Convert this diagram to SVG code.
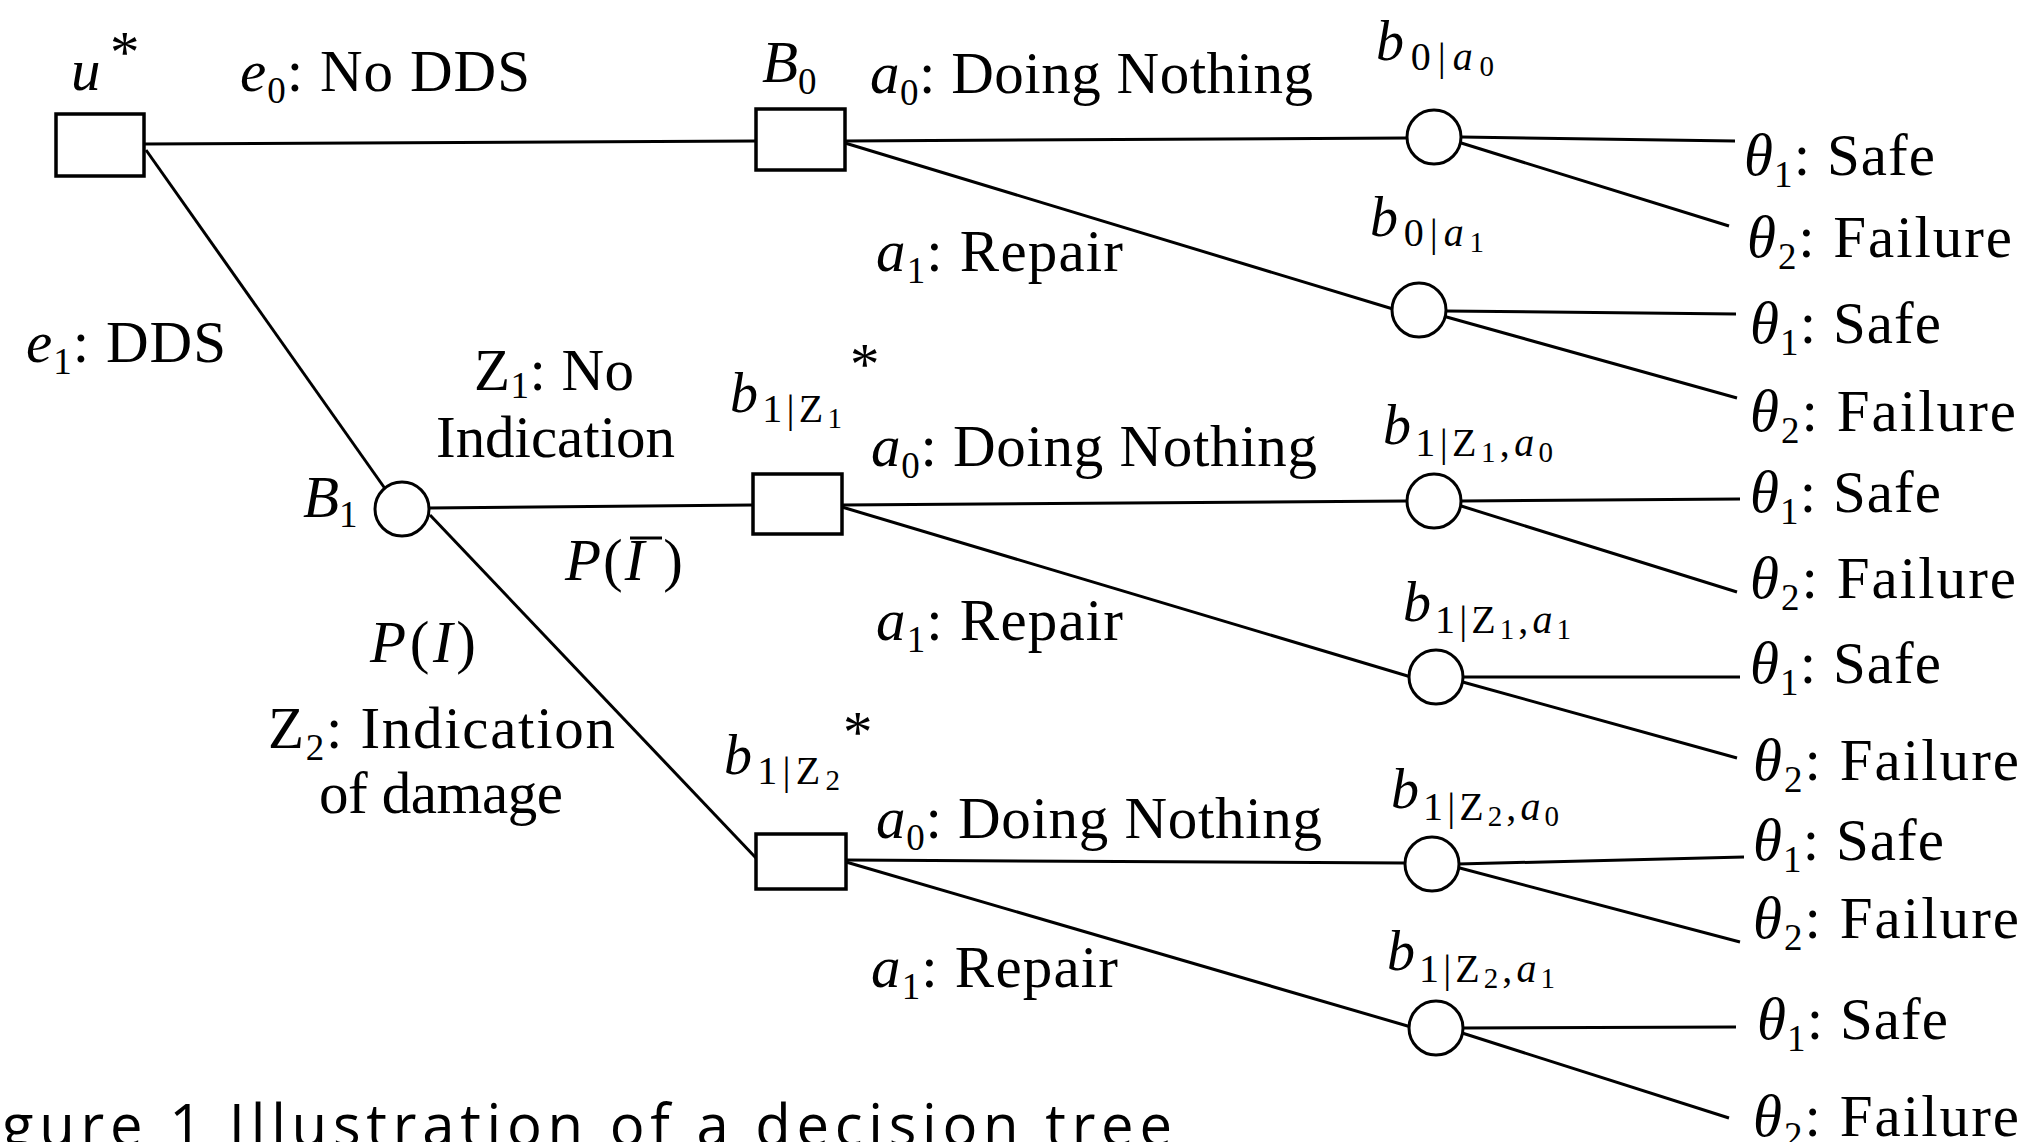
<svg xmlns="http://www.w3.org/2000/svg" width="2029" height="1142" viewBox="0 0 2029 1142">
<style>
.t{font-family:"Liberation Serif","Times New Roman",serif;font-size:59px;fill:#000}
.i{font-style:italic}
.s{font-size:37px}
.bl{font-family:"Liberation Serif","Times New Roman",serif;font-size:56px;fill:#000}
.s1{font-size:40px}
.s2{font-size:29px}
.ln{stroke:#000;stroke-width:3;fill:none}
.box{fill:#fff;stroke:#000;stroke-width:3.5}
.chance{fill:#fff;stroke:#000;stroke-width:3}
.cap{font-family:"Open Sans","Noto Sans",sans-serif;font-size:58px;fill:#000}
</style>
<rect width="2029" height="1142" fill="#fff"/>
<g id="connectors">
<path class="ln" d="M144,144 L756,141"/>
<path class="ln" d="M146,150 L386,490"/>
<path class="ln" d="M428,508 L753,505"/>
<path class="ln" d="M430,515 L756,858"/>
<path class="ln" d="M845,141 L1407,138"/>
<path class="ln" d="M845,143 L1393,309"/>
<path class="ln" d="M1461,137 L1735,141"/>
<path class="ln" d="M1458,142 L1729,226"/>
<path class="ln" d="M1445,311 L1736,314"/>
<path class="ln" d="M1443,316 L1737,398"/>
<path class="ln" d="M842,505 L1407,501"/>
<path class="ln" d="M842,507 L1411,677"/>
<path class="ln" d="M1461,501 L1740,499"/>
<path class="ln" d="M1458,505 L1737,592"/>
<path class="ln" d="M1462,677 L1740,677"/>
<path class="ln" d="M1459,681 L1737,758"/>
<path class="ln" d="M846,860 L1405,863"/>
<path class="ln" d="M846,862 L1411,1027"/>
<path class="ln" d="M1458,864 L1744,857"/>
<path class="ln" d="M1456,867 L1740,942"/>
<path class="ln" d="M1462,1028 L1736,1027"/>
<path class="ln" d="M1459,1032 L1729,1118"/>
</g>
<g id="node-u">
<rect class="box" x="56" y="114" width="88" height="62"/>
<text class="t i" x="71" y="90">u</text>
<text class="t" x="110" y="72" font-size="26">*</text>
</g>
<g id="node-B0">
<rect class="box" x="756" y="109" width="89" height="61"/>
<text class="t" x="762" y="82"><tspan class="i">B</tspan><tspan class="s" dy="12">0</tspan></text>
</g>
<g id="node-B1">
<circle class="chance" cx="402" cy="509" r="27"/>
<text class="t" x="303" y="517"><tspan class="i">B</tspan><tspan class="s" dy="10">1</tspan></text>
</g>
<g id="node-b1z1">
<rect class="box" x="753" y="474" width="89" height="60"/>
<text class="bl" x="730" y="412" textLength="112" lengthAdjust="spacing"><tspan class="i">b</tspan><tspan class="s1" dy="10">1|Z</tspan><tspan class="s2" dy="6">1</tspan></text>
<text class="t" x="850" y="384" font-size="24">*</text>
</g>
<g id="node-b1z2">
<rect class="box" x="756" y="834" width="90" height="55"/>
<text class="bl" x="724" y="774" textLength="116" lengthAdjust="spacing"><tspan class="i">b</tspan><tspan class="s1" dy="10">1|Z</tspan><tspan class="s2" dy="6">2</tspan></text>
<text class="t" x="843" y="752" font-size="24">*</text>
</g>
<g id="node-b0a0">
<circle class="chance" cx="1434" cy="137" r="27"/>
<text class="bl" x="1376" y="60" textLength="118" lengthAdjust="spacing"><tspan class="i">b</tspan><tspan class="s1" dy="10">0|</tspan><tspan class="s1 i">a</tspan><tspan class="s2" dy="6">0</tspan></text>
</g>
<g id="node-b0a1">
<circle class="chance" cx="1419" cy="310" r="27"/>
<text class="bl" x="1370" y="236" textLength="114" lengthAdjust="spacing"><tspan class="i">b</tspan><tspan class="s1" dy="10">0|</tspan><tspan class="s1 i">a</tspan><tspan class="s2" dy="6">1</tspan></text>
</g>
<g id="node-b1z1a0">
<circle class="chance" cx="1434" cy="501" r="27"/>
<text class="bl" x="1383" y="444" textLength="170" lengthAdjust="spacing"><tspan class="i">b</tspan><tspan class="s1" dy="12">1|Z</tspan><tspan class="s2" dy="6">1</tspan><tspan class="s1" dy="-6">,</tspan><tspan class="s1 i">a</tspan><tspan class="s2" dy="6">0</tspan></text>
</g>
<g id="node-b1z1a1">
<circle class="chance" cx="1436" cy="677" r="27"/>
<text class="bl" x="1403" y="621" textLength="168" lengthAdjust="spacing"><tspan class="i">b</tspan><tspan class="s1" dy="12">1|Z</tspan><tspan class="s2" dy="6">1</tspan><tspan class="s1" dy="-6">,</tspan><tspan class="s1 i">a</tspan><tspan class="s2" dy="6">1</tspan></text>
</g>
<g id="node-b1z2a0">
<circle class="chance" cx="1432" cy="864" r="27"/>
<text class="bl" x="1391" y="808" textLength="168" lengthAdjust="spacing"><tspan class="i">b</tspan><tspan class="s1" dy="12">1|Z</tspan><tspan class="s2" dy="6">2</tspan><tspan class="s1" dy="-6">,</tspan><tspan class="s1 i">a</tspan><tspan class="s2" dy="6">0</tspan></text>
</g>
<g id="node-b1z2a1">
<circle class="chance" cx="1436" cy="1028" r="27"/>
<text class="bl" x="1387" y="970" textLength="168" lengthAdjust="spacing"><tspan class="i">b</tspan><tspan class="s1" dy="12">1|Z</tspan><tspan class="s2" dy="6">2</tspan><tspan class="s1" dy="-6">,</tspan><tspan class="s1 i">a</tspan><tspan class="s2" dy="6">1</tspan></text>
</g>
<g id="edge-labels">
<text class="t" x="240" y="91" textLength="290" lengthAdjust="spacing"><tspan class="i">e</tspan><tspan class="s" dy="12">0</tspan><tspan dy="-12">: No DDS</tspan></text>
<text class="t" x="26" y="362" textLength="200" lengthAdjust="spacing"><tspan class="i">e</tspan><tspan class="s" dy="12">1</tspan><tspan dy="-12">: DDS</tspan></text>
<text class="t" x="870" y="93" textLength="443" lengthAdjust="spacing"><tspan class="i">a</tspan><tspan class="s" dy="12">0</tspan><tspan dy="-12">: Doing Nothing</tspan></text>
<text class="t" x="876" y="271" textLength="247" lengthAdjust="spacing"><tspan class="i">a</tspan><tspan class="s" dy="12">1</tspan><tspan dy="-12">: Repair</tspan></text>
<text class="t" x="871" y="466" textLength="446" lengthAdjust="spacing"><tspan class="i">a</tspan><tspan class="s" dy="12">0</tspan><tspan dy="-12">: Doing Nothing</tspan></text>
<text class="t" x="876" y="640" textLength="247" lengthAdjust="spacing"><tspan class="i">a</tspan><tspan class="s" dy="12">1</tspan><tspan dy="-12">: Repair</tspan></text>
<text class="t" x="876" y="838" textLength="446" lengthAdjust="spacing"><tspan class="i">a</tspan><tspan class="s" dy="12">0</tspan><tspan dy="-12">: Doing Nothing</tspan></text>
<text class="t" x="871" y="987" textLength="247" lengthAdjust="spacing"><tspan class="i">a</tspan><tspan class="s" dy="12">1</tspan><tspan dy="-12">: Repair</tspan></text>
<text class="t" x="474" y="390" font-size="52" textLength="160" lengthAdjust="spacing">Z<tspan class="s" font-size="32" dy="8">1</tspan><tspan dy="-8">: No</tspan></text>
<text class="t" x="436" y="457" textLength="239" lengthAdjust="spacing">Indication</text>
<text class="t" x="565" y="580" textLength="118" lengthAdjust="spacing"><tspan class="i">P</tspan>(<tspan class="i">I</tspan> )</text>
<path class="ln" d="M630,538 L662,538"/>
<text class="t" x="370" y="662" textLength="106" lengthAdjust="spacing"><tspan class="i">P</tspan>(<tspan class="i">I</tspan>)</text>
<text class="t" x="268" y="748" textLength="347" lengthAdjust="spacing">Z<tspan class="s" dy="12">2</tspan><tspan dy="-12">:  Indication</tspan></text>
<text class="t" x="319" y="813" textLength="244" lengthAdjust="spacing">of damage</text>
</g>
<g id="outcomes">
<text class="t" x="1744" y="175" textLength="191" lengthAdjust="spacing"><tspan class="i">θ</tspan><tspan class="s" dy="12">1</tspan><tspan dy="-12">: Safe</tspan></text>
<text class="t" x="1747" y="257" textLength="265" lengthAdjust="spacing"><tspan class="i">θ</tspan><tspan class="s" dy="12">2</tspan><tspan dy="-12">: Failure</tspan></text>
<text class="t" x="1750" y="343" textLength="191" lengthAdjust="spacing"><tspan class="i">θ</tspan><tspan class="s" dy="12">1</tspan><tspan dy="-12">: Safe</tspan></text>
<text class="t" x="1750" y="431" textLength="266" lengthAdjust="spacing"><tspan class="i">θ</tspan><tspan class="s" dy="12">2</tspan><tspan dy="-12">: Failure</tspan></text>
<text class="t" x="1750" y="512" textLength="191" lengthAdjust="spacing"><tspan class="i">θ</tspan><tspan class="s" dy="12">1</tspan><tspan dy="-12">: Safe</tspan></text>
<text class="t" x="1750" y="598" textLength="266" lengthAdjust="spacing"><tspan class="i">θ</tspan><tspan class="s" dy="12">2</tspan><tspan dy="-12">: Failure</tspan></text>
<text class="t" x="1750" y="683" textLength="191" lengthAdjust="spacing"><tspan class="i">θ</tspan><tspan class="s" dy="12">1</tspan><tspan dy="-12">: Safe</tspan></text>
<text class="t" x="1753" y="780" textLength="266" lengthAdjust="spacing"><tspan class="i">θ</tspan><tspan class="s" dy="12">2</tspan><tspan dy="-12">: Failure</tspan></text>
<text class="t" x="1753" y="860" textLength="191" lengthAdjust="spacing"><tspan class="i">θ</tspan><tspan class="s" dy="12">1</tspan><tspan dy="-12">: Safe</tspan></text>
<text class="t" x="1753" y="938" textLength="266" lengthAdjust="spacing"><tspan class="i">θ</tspan><tspan class="s" dy="12">2</tspan><tspan dy="-12">: Failure</tspan></text>
<text class="t" x="1757" y="1039" textLength="191" lengthAdjust="spacing"><tspan class="i">θ</tspan><tspan class="s" dy="12">1</tspan><tspan dy="-12">: Safe</tspan></text>
<text class="t" x="1753" y="1136" textLength="266" lengthAdjust="spacing"><tspan class="i">θ</tspan><tspan class="s" dy="12">2</tspan><tspan dy="-12">: Failure</tspan></text>
</g>
<text class="cap" x="2" y="1146" textLength="1170" lengthAdjust="spacing">gure 1 Illustration of a decision tree</text>
</svg>
